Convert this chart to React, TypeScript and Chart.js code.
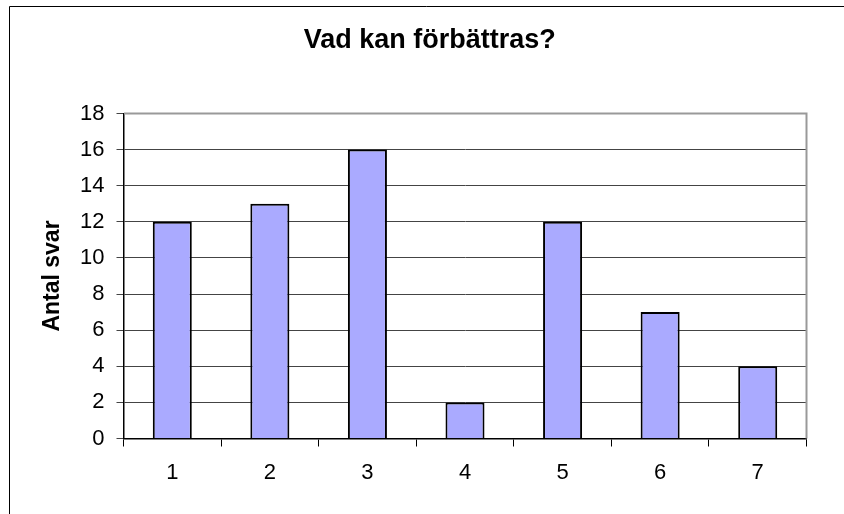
import React, { useEffect, useRef } from "react";
import { Chart, registerables } from "chart.js";

Chart.register(...registerables);

const chartTitle = "Vad kan förbättras?";
const yAxisTitle = "Antal svar";
const categories = ["1", "2", "3", "4", "5", "6", "7"];
const answers = [12, 13, 16, 2, 12, 7, 4];
const yMin = 0;
const yMax = 18;
const yStep = 2;

const FONT = "'Liberation Sans', Arial, Helvetica, sans-serif";

const framePlugin = {
  id: "frame",
  beforeDraw(chart: any) {
    const ctx = chart.ctx;
    ctx.save();
    ctx.fillStyle = "#ffffff";
    ctx.fillRect(0, 0, chart.width, chart.height);
    ctx.strokeStyle = "#000000";
    ctx.lineWidth = 1;
    ctx.beginPath();
    ctx.moveTo(9.5, chart.height);
    ctx.lineTo(9.5, 6.5);
    ctx.lineTo(chart.width, 6.5);
    ctx.stroke();
    ctx.restore();
  },
  afterDraw(chart: any) {
    const { left, right, top, bottom } = chart.chartArea;
    const ctx = chart.ctx;
    ctx.save();
    ctx.strokeStyle = "#999999";
    ctx.lineWidth = 2;
    ctx.beginPath();
    ctx.moveTo(left + 0.5, top);
    ctx.lineTo(right, top);
    ctx.lineTo(right, bottom);
    ctx.stroke();
    ctx.restore();
  },
};

export default function App() {
  const canvasRef = useRef<HTMLCanvasElement | null>(null);

  useEffect(() => {
    const canvas = canvasRef.current;
    if (!canvas) return;
    const chart = new Chart(canvas, {
      type: "bar",
      data: {
        labels: categories,
        datasets: [
          {
            label: yAxisTitle,
            data: answers,
            backgroundColor: "#aaaaff",
            borderColor: "#000000",
            borderWidth: 2,
            barPercentage: 0.4,
            categoryPercentage: 1,
          },
        ],
      },
      plugins: [framePlugin],
      options: {
        responsive: false,
        animation: false,
        devicePixelRatio: 1,
        layout: { padding: { left: 53, right: 37.5, top: 0, bottom: 0 } },
        plugins: {
          legend: { display: false },
          tooltip: { enabled: false },
          title: {
            display: true,
            text: chartTitle,
            color: "#000000",
            font: { family: FONT, size: 27, weight: "bold" },
            padding: { top: 24.3, bottom: 56.8 },
          },
        },
        scales: {
          x: {
            afterFit: (scale: any) => {
              scale.height = 75.5;
            },
            grid: {
              display: true,
              drawOnChartArea: false,
              drawTicks: true,
              tickLength: 8,
              color: "#000000",
              offset: true,
            },
            border: { display: true, color: "#000000", width: 1.5 },
            ticks: {
              color: "#000000",
              font: { family: FONT, size: 22 },
              padding: 13,
              maxRotation: 0,
            },
          },
          y: {
            min: yMin,
            max: yMax,
            afterFit: (scale: any) => {
              scale.width = 70.5;
            },
            grid: {
              display: true,
              drawOnChartArea: true,
              drawTicks: true,
              tickLength: 7,
              color: "#444444",
            },
            border: { display: true, color: "#000000", width: 1.5 },
            ticks: {
              stepSize: yStep,
              color: "#000000",
              font: { family: FONT, size: 22 },
              padding: 12,
            },
            title: {
              display: true,
              text: yAxisTitle,
              color: "#000000",
              font: { family: FONT, size: 23, weight: "bold" },
              padding: { top: -14, bottom: 0 },
            },
          },
        },
      },
    } as any);
    return () => chart.destroy();
  }, []);

  return (
    <div style={{ position: "fixed", left: 0, top: 0, width: 844, height: 514 }}>
      <canvas ref={canvasRef} width={844} height={514} style={{ width: 844, height: 514, display: "block" }} />
    </div>
  );
}
